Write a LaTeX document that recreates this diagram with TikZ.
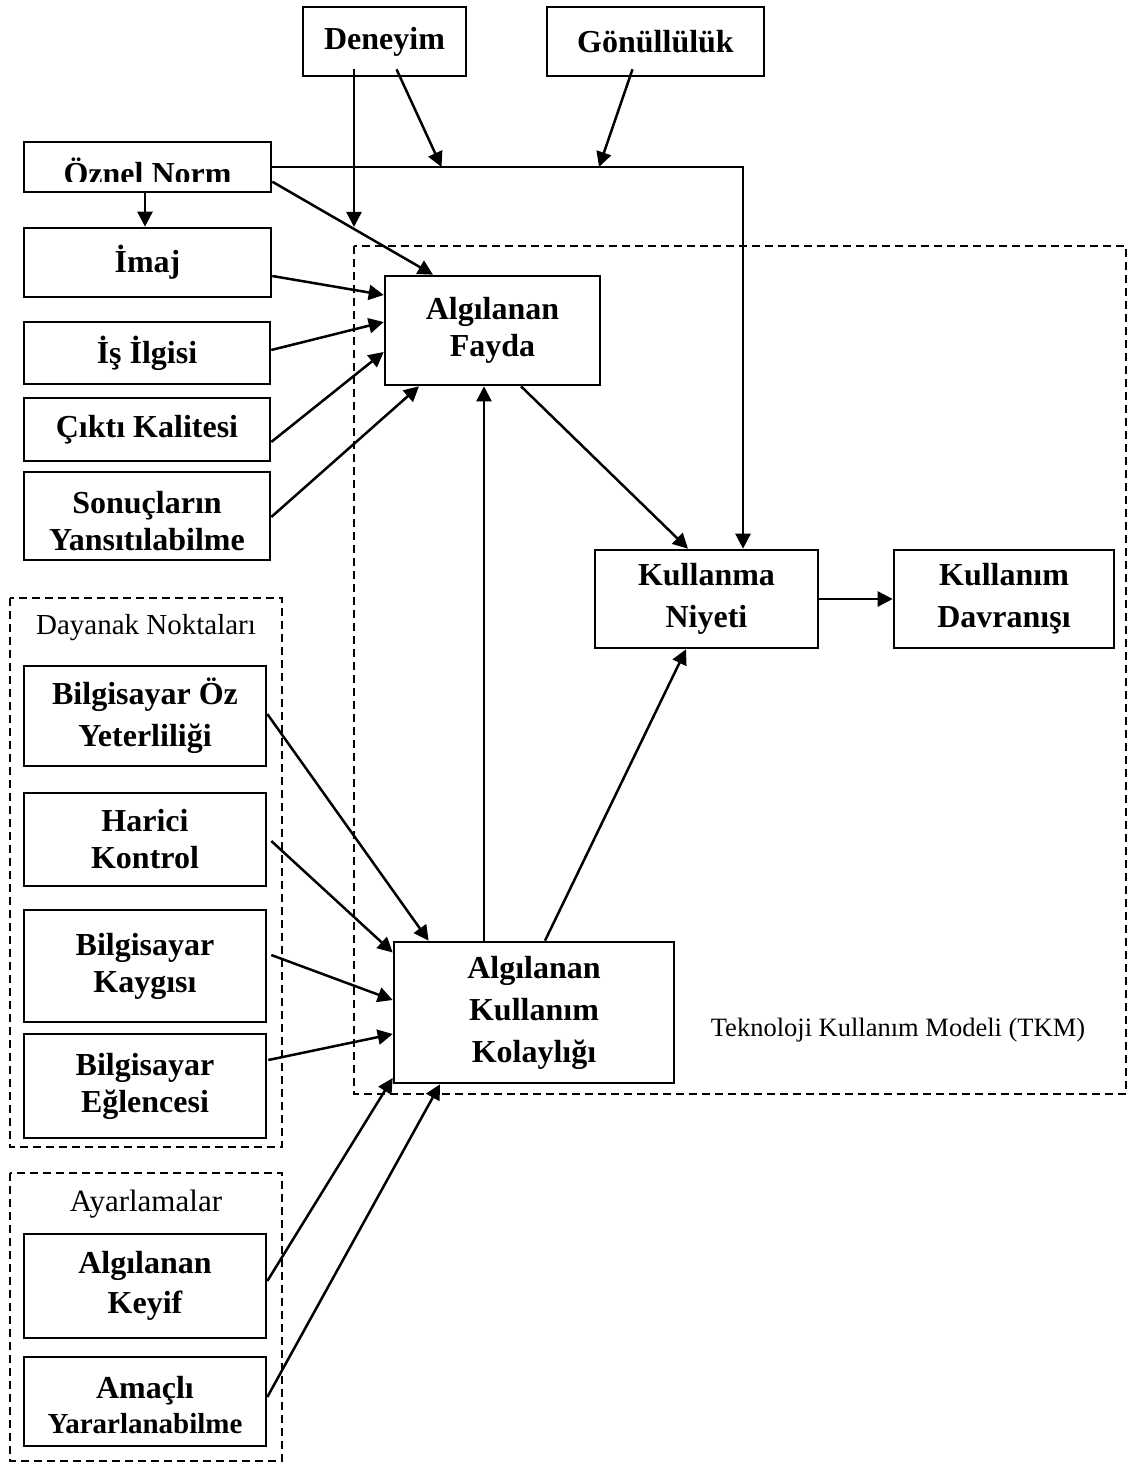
\documentclass[tikz,border=0pt]{standalone}
\usepackage{fontspec}
\setmainfont{Liberation Serif}
\usetikzlibrary{arrows.meta}
\begin{document}
\begin{tikzpicture}[x=1pt,y=-1pt,
  bx/.style={draw, line width=2.6pt, inner sep=0pt, align=center,
             font=\bfseries\fontsize{32}{38}\selectfont},
  tight/.style={font=\bfseries\fontsize{32}{37}\selectfont},
  loose/.style={font=\bfseries\fontsize{32}{42}\selectfont},
  frame/.style={line width=2pt, dash pattern=on 8pt off 5pt},
  lbl/.style={inner sep=0pt},
  arr/.style={line width=2.5pt, -{Triangle[length=15pt,width=15pt]}}]
\useasboundingbox (0,0) rectangle (1128,1463);

% group frames
\draw[frame] (354,246) rectangle (1126,1094);
\draw[frame] (10,598) rectangle (282,1147);
\draw[frame] (10,1173) rectangle (282,1461);

\node[lbl, font=\fontsize{26.5}{30}\selectfont] (tkmlbl) at (898,1030) {Teknoloji Kullanım Modeli (TKM)};
\node[lbl, font=\fontsize{29}{33}\selectfont] (daylbl) at (146,628) {Dayanak Noktaları};
\node[lbl, font=\fontsize{31}{35}\selectfont] (aylbl) at (146,1204) {Ayarlamalar};

% top moderators
\node[bx, minimum width=163pt, minimum height=69pt] (den) at (384.5,41.5) {Deneyim};
\node[bx, minimum width=217pt, minimum height=69pt] (gon) at (655.5,41.5) {Gönüllülük};

% external variables of perceived usefulness
\node[bx, minimum width=247pt, minimum height=50pt] (oz) at (147.5,167) {};
\begin{scope}
  \clip (24,142) rectangle (271,182);
  \node[lbl, anchor=base, font=\bfseries\fontsize{32}{38}\selectfont] (oztxt) at (147.5,185) {Öznel Norm};
\end{scope}
\node[bx, minimum width=247pt, minimum height=69pt] (imaj) at (147.5,262.5) {İmaj};
\node[bx, minimum width=246pt, minimum height=62pt] (is) at (147,353) {İş İlgisi};
\node[bx, minimum width=246pt, minimum height=63pt] (cik) at (147,429.5) {Çıktı Kalitesi};
\node[bx, tight, minimum width=246pt, minimum height=88pt] (son) at (147,516) {\rule{0pt}{33pt}Sonuçların\\Yansıtılabilme};

% core model
\node[bx, tight, minimum width=215pt, minimum height=109pt] (af) at (492.5,330.5) {Algılanan\\Fayda};
\node[bx, loose, minimum width=223pt, minimum height=98pt] (kn) at (706.5,599) {Kullanma\\Niyeti};
\node[bx, loose, minimum width=220pt, minimum height=98pt] (kd) at (1004,599) {Kullanım\\Davranışı};
\node[bx, loose, minimum width=280pt, minimum height=141pt] (akk) at (534,1012.5) {Algılanan\\Kullanım\\Kolaylığı};

% anchors
\node[bx, loose, minimum width=242pt, minimum height=100pt] (boy) at (145,716) {Bilgisayar Öz\\Yeterliliği};
\node[bx, tight, minimum width=242pt, minimum height=93pt] (har) at (145,839.5) {Harici\\Kontrol};
\node[bx, tight, minimum width=242pt, minimum height=112pt] (kay) at (145,966) {Bilgisayar\\Kaygısı};
\node[bx, tight, minimum width=242pt, minimum height=104pt] (egl) at (145,1086) {Bilgisayar\\Eğlencesi};

% adjustments
\node[bx, font=\bfseries\fontsize{32}{40}\selectfont, minimum width=242pt, minimum height=104pt] (key) at (145,1286) {Algılanan\\Keyif};
\node[bx, font=\bfseries\fontsize{32}{35}\selectfont, minimum width=242pt, minimum height=89pt] (ama) at (145,1401.5) {\rule{0pt}{29pt}Amaçlı\\{\fontsize{29}{35}\selectfont Yararlanabilme}};

% points where the moderator arrows land
\coordinate (deA) at (441.5,167);
\coordinate (goA) at (599,167);
\coordinate (deB) at (354,227);

% moderators
\draw[arr] ([xshift=-30.5pt,yshift=8pt]den.south) -- (deB);
\draw[arr] ([xshift=12pt,yshift=8pt]den.south) -- (deA);
\draw[arr] ([xshift=-23pt,yshift=8pt]gon.south) -- (goA);

% subjective norm
\draw[arr] (oz.east) -| ([xshift=36.5pt]kn.north);
\draw[arr] ([xshift=-2.5pt]oz.south) -- ([xshift=-2.5pt]imaj.north);
\draw[arr] ([yshift=-14.7pt]oz.east) -- ([xshift=-59.5pt]af.north);

% into perceived usefulness
\draw[arr] ([yshift=-13.5pt]imaj.east) -- ([yshift=35.5pt]af.west);
\draw[arr] ([yshift=3pt]is.east) -- ([yshift=8.5pt]af.west);
\draw[arr] ([yshift=-12.5pt]cik.east) -- ([yshift=-21.5pt]af.west);
\draw[arr] ([yshift=-1pt]son.east) -- ([xshift=-73.5pt]af.south);
\draw[arr] ([xshift=-50pt]akk.north) -- ([xshift=-50pt]akk.north |- af.south);

% core paths
\draw[arr] ([xshift=28.5pt]af.south) -- ([xshift=-18.5pt]kn.north);
\draw[arr] ([xshift=11pt]akk.north) -- ([xshift=-20.5pt]kn.south);
\draw[arr] (kn.east) -- (kd.west);

% into perceived ease of use
\draw[arr] ([yshift=2pt]boy.east) -- ([xshift=-105.4pt]akk.north);
\draw[arr] ([xshift=4pt,yshift=-1.5pt]har.east) -- ([yshift=60pt]akk.west);
\draw[arr] ([xshift=4pt,yshift=11pt]kay.east) -- ([yshift=12.5pt]akk.west);
\draw[arr] ([xshift=1pt,yshift=26pt]egl.east) -- ([yshift=-21.5pt]akk.west);
\draw[arr] ([yshift=5pt]key.east) -- ([yshift=-65.5pt]akk.west);
\draw[arr] ([yshift=4.5pt]ama.east) -- ([xshift=-94pt]akk.south);
\end{tikzpicture}
\end{document}
